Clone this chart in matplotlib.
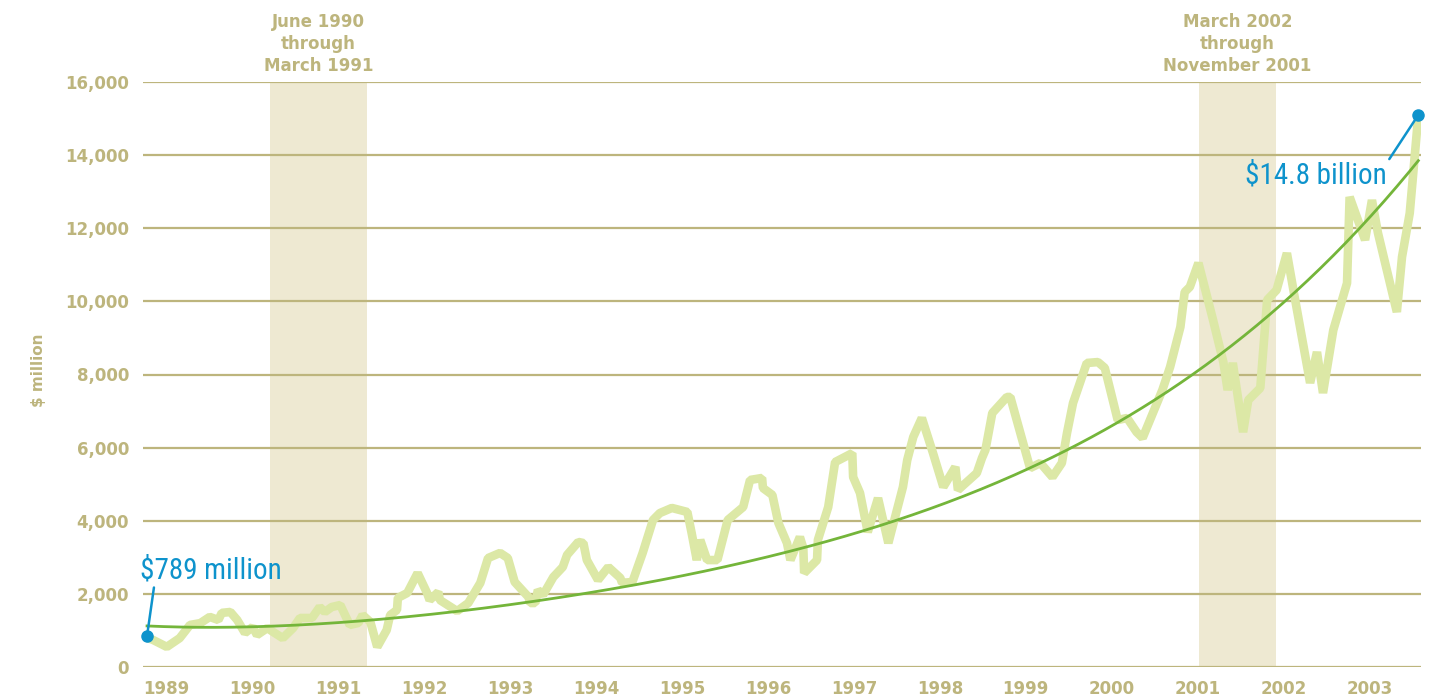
import matplotlib
matplotlib.use("Agg")
import matplotlib.pyplot as plt
from matplotlib import font_manager as fm
import numpy as np

# ---- data ----
dates = [1989.00, 1989.07, 1989.23, 1989.38, 1989.50, 1989.62, 1989.73, 1989.83, 1989.87, 1989.97,
         1990.05, 1990.14, 1990.23, 1990.28, 1990.40, 1990.47, 1990.58, 1990.70, 1990.78, 1990.92,
         1991.01, 1991.07, 1991.15, 1991.25, 1991.36, 1991.46, 1991.51, 1991.60, 1991.68, 1991.79,
         1991.83, 1991.91, 1991.92, 1992.03, 1992.15, 1992.26, 1992.29, 1992.39, 1992.41, 1992.61,
         1992.74, 1992.88, 1992.97, 1993.11, 1993.20, 1993.28, 1993.44, 1993.46, 1993.52, 1993.55,
         1993.61, 1993.73, 1993.84, 1993.89, 1994.02, 1994.08, 1994.12, 1994.25, 1994.37, 1994.51,
         1994.53, 1994.65, 1994.77, 1994.89, 1994.97, 1995.11, 1995.29, 1995.34, 1995.40, 1995.44,
         1995.52, 1995.64, 1995.76, 1995.94, 1996.02, 1996.16, 1996.17, 1996.28, 1996.35, 1996.45,
         1996.49, 1996.60, 1996.64, 1996.65, 1996.80, 1996.81, 1996.93, 1997.01, 1997.21, 1997.22,
         1997.30, 1997.39, 1997.51, 1997.63, 1997.80, 1997.85, 1997.92, 1998.02, 1998.15, 1998.27,
         1998.41, 1998.44, 1998.66, 1998.72, 1998.76, 1998.84, 1999.01, 1999.05, 1999.28, 1999.40,
         1999.54, 1999.65, 1999.71, 1999.78, 1999.94, 2000.07, 2000.15, 2000.30, 2000.41, 2000.52,
         2000.59, 2000.71, 2000.82, 2000.91, 2001.03, 2001.08, 2001.14, 2001.24, 2001.41, 2001.53,
         2001.58, 2001.64, 2001.76, 2001.82, 2001.96, 2002.04, 2002.15, 2002.27, 2002.36, 2002.54,
         2002.62, 2002.69, 2002.81, 2002.97, 2003.00, 2003.18, 2003.26, 2003.33, 2003.55, 2003.61,
         2003.70, 2003.80]
values = [800, 740, 550, 790, 1150, 1200, 1370, 1285, 1480, 1505,
          1285, 930, 1095, 875, 1065, 955, 790, 1065, 1340, 1340,
          1640, 1505, 1640, 1695, 1150, 1205, 1420, 1230, 550, 1010,
          1420, 1560, 1890, 2025, 2570, 2025, 1830, 2050, 1830, 1530,
          1750, 2300, 2980, 3120, 2980, 2325, 1915, 1750, 1750, 2105,
          1970, 2460, 2735, 3065, 3420, 3390, 2925, 2380, 2735, 2435,
          2300, 2325, 3120, 4020, 4210, 4350, 4240, 3665, 2925, 3475,
          2925, 2925, 4020, 4375, 5115, 5170, 4895, 4705, 3940, 3390,
          2925, 3555, 3255, 2570, 2925, 3475, 4375, 5605, 5850, 5195,
          4760, 3690, 4620, 3390, 4925, 5660, 6290, 6810, 5850, 4925,
          5470, 4840, 5305, 5715, 5935, 6945, 7385, 7385, 5440, 5580,
          5195, 5580, 6400, 7220, 8315, 8340, 8180, 6755, 6810, 6425,
          6265, 6945, 7575, 8205, 9300, 10255, 10395, 11050, 9490, 8340,
          7575, 8315, 6425, 7300, 7630, 10040, 10310, 11320, 10120, 7770,
          8615, 7495, 9215, 10500, 12855, 11680, 12770, 11870, 9710, 11215,
          12415, 15100]

trend_years = [1989, 1990, 1991, 1992, 1993, 1994, 1995, 1996, 1997, 1998,
               1999, 2000, 2001, 2002, 2003, 2003.8]
trend_values = [1090, 1110, 1230, 1360, 1640, 1950, 2380, 2845, 3450, 4240,
                5200, 6430, 7710, 9410, 11600, 13950]

year_labels = ["1989", "1990", "1991", "1992", "1993", "1994", "1995", "1996",
               "1997", "1998", "1999", "2000", "2001", "2002", "2003"]
y_ticks = [0, 2000, 4000, 6000, 8000, 10000, 12000, 14000, 16000]
y_tick_labels = ["0", "2,000", "4,000", "6,000", "8,000", "10,000", "12,000", "14,000", "16,000"]

recessions = [(1990.43, 1991.56, "June 1990\nthrough\nMarch 1991"),
              (2001.25, 2002.14, "March 2002\nthrough\nNovember 2001")]

start_label = "$789 million"
end_label = "$14.8 billion"

# ---- fonts ----
available = set(f.name for f in fm.fontManager.ttflist)


def pick(cands, default="DejaVu Sans"):
    for c in cands:
        if c in available:
            return c
    return default


NARROW_FONT = pick(["Roboto Condensed", "Archivo Narrow", "Barlow Semi Condensed",
                    "Asap Condensed", "Liberation Sans Narrow"])

# ---- styling ----
KHAKI = "#BDB57D"
SHADE = "#EEE9D2"
LIGHT_GREEN = "#DCE8A6"
TREND_GREEN = "#74B53A"
BLUE = "#0E93CC"

plt.rcParams['font.family'] = ['DejaVu Sans']

fig = plt.figure(figsize=(14.47, 6.96), dpi=100)
ax = fig.add_axes([143 / 1447, 29 / 696, 1278 / 1447, 585 / 696])
ax.set_xlim(1988.953, 2003.831)
ax.set_ylim(0, 16000)

for s in ax.spines.values():
    s.set_visible(False)

# recession shading
for x0, x1, lab in recessions:
    ax.axvspan(x0, x1, color=SHADE, zorder=0, lw=0)
    ax.text((x0 + x1) / 2, 1.012, lab, transform=ax.get_xaxis_transform(),
            ha="center", va="bottom", color=KHAKI, fontsize=12, fontweight="bold",
            linespacing=1.3)

# gridlines
for yv in y_ticks:
    ax.axhline(yv, color=KHAKI, lw=1.6, zorder=1)

# data line
ax.plot(dates, values, color=LIGHT_GREEN, lw=6.2, solid_joinstyle="bevel",
        solid_capstyle="butt", zorder=2)

# trend line (polynomial fit through read trend values)
coef = np.polyfit(trend_years, trend_values, 5)
tx = np.linspace(trend_years[0], trend_years[-1], 300)
ax.plot(tx, np.polyval(coef, tx), color=TREND_GREEN, lw=2, zorder=3)

# ticks
ax.set_yticks(y_ticks)
ax.set_yticklabels(y_tick_labels)
ax.set_xticks([int(y) - 0.04 for y in year_labels])
ax.set_xticklabels(year_labels, ha="left")
ax.tick_params(axis="both", length=0, colors=KHAKI, labelsize=12)
ax.tick_params(axis="y", pad=10)
ax.tick_params(axis="x", pad=9)
for lab in ax.get_xticklabels() + ax.get_yticklabels():
    lab.set_fontweight("bold")

fig.text(38 / 1447, 1 - 370 / 696, "$ million", rotation=90, ha="center", va="center",
         color=KHAKI, fontsize=11, fontweight="bold")

# annotations
ax.plot([dates[0]], [values[0] + 50], "o", color=BLUE, ms=8, zorder=5, clip_on=False)
ax.annotate(start_label, xy=(dates[0], values[0] + 50), xytext=(1988.92, 2250),
            color=BLUE, fontsize=21, family=[NARROW_FONT, "DejaVu Sans"], ha="left", va="bottom",
            arrowprops=dict(arrowstyle="-", color=BLUE, lw=1.8, shrinkA=0, shrinkB=0,
                            relpos=(0.1, 0.0)), zorder=5)
ax.plot([dates[-1]], [values[-1]], "o", color=BLUE, ms=8, zorder=5, clip_on=False)
ax.annotate(end_label, xy=(dates[-1], values[-1]), xytext=(2003.43, 13050),
            color=BLUE, fontsize=21, family=[NARROW_FONT, "DejaVu Sans"], ha="right", va="bottom",
            arrowprops=dict(arrowstyle="-", color=BLUE, lw=1.8, shrinkA=0, shrinkB=0,
                            relpos=(1.0, 0.95)), zorder=5)

fig.savefig("out.png", dpi=100)
